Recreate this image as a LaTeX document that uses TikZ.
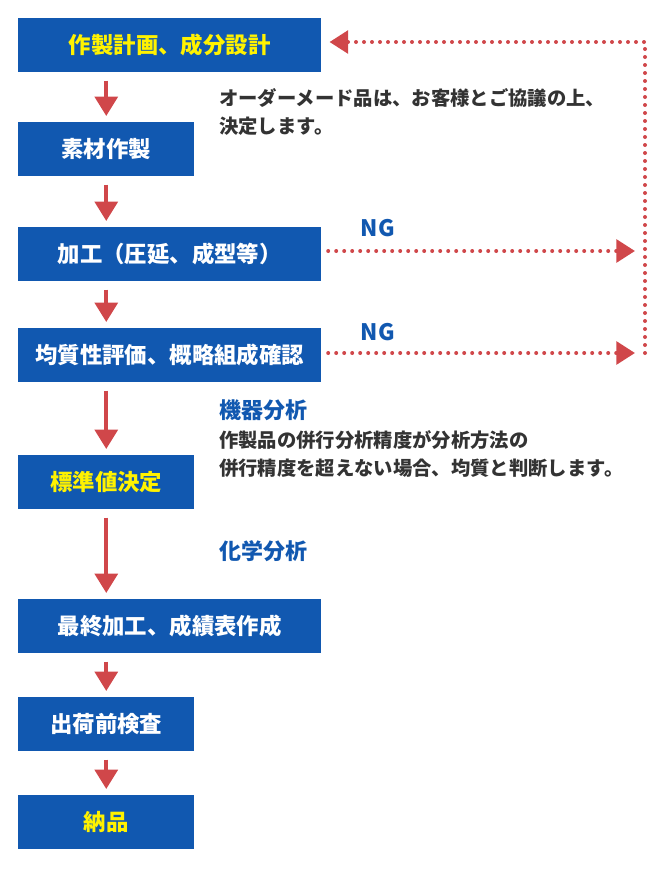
\documentclass[tikz,border=0pt]{standalone}
\usepackage{fontspec}
\setmainfont{Noto Sans CJK JP}
\usetikzlibrary{arrows.meta}
\definecolor{boxblue}{HTML}{1158B0}
\definecolor{boxyellow}{HTML}{FFF200}
\definecolor{flowred}{HTML}{D0474A}
\definecolor{notegray}{HTML}{333333}

\begin{document}
\begin{tikzpicture}[x=0.75pt,y=-0.75pt,
    box/.style={fill=boxblue,text=white,font=\fontsize{16.8}{19}\selectfont\bfseries,inner sep=0pt,minimum height=40.5pt,anchor=north west},
    wide box/.style={box,minimum width=227.25pt},
    short box/.style={box,minimum width=132pt},
    hi/.style={text=boxyellow},
    down/.style={-{Triangle[width=17pt,length=14.5pt]},draw=flowred,line width=3pt,shorten <=6pt,shorten >=4.5pt},
    ng line/.style={-{Triangle[width=17pt,length=14pt]},draw=flowred,line width=3pt,line cap=round,dash pattern=on 0pt off 6pt},
    note/.style={text=notegray,font=\fontsize{14.5}{21}\selectfont\bfseries,align=left,anchor=west,inner sep=0pt},
    blue note/.style={text=boxblue,font=\fontsize{16.5}{19}\selectfont\bfseries,anchor=west,inner sep=0pt}]
  \useasboundingbox (0,0) rectangle (669,871);
  % flow boxes
  \node[wide box,hi] (plan) at (18,18) {作製計画、成分設計};
  \node[short box] (mat) at (18,122) {素材作製};
  \node[wide box] (work) at (18,227) {加工（圧延、成型等）};
  \node[wide box] (eval) at (18,328) {均質性評価、概略組成確認};
  \node[short box,hi] (std) at (18,455) {標準値決定};
  \node[wide box] (fin) at (18,599) {最終加工、成績表作成};
  \node[short box] (chk) at (18,697) {出荷前検査};
  \node[short box,hi] (dlv) at (18,795) {納品};
  % notes
  \node[note] (n1) at (219,112) {オーダーメード品は、お客様とご協議の上、\\決定します。};
  \node[blue note,font=\fontsize{17}{20}\selectfont\bfseries] (ng1) at (360,228) {N\kern1pt G};
  \node[blue note,font=\fontsize{17}{20}\selectfont\bfseries] (ng2) at (360,332) {N\kern1pt G};
  \node[blue note] (kiki) at (219,410) {機器分析};
  \node[note] (n2) at (219,454) {作製品の併行分析精度が分析方法の\\併行精度を超えない場合、均質と判断します。};
  \node[blue note] (kagaku) at (219,551) {化学分析};
  % main flow
  \draw[down] (plan.south -| mat.north) -- (mat.north);
  \draw[down] (mat.south) -- (work.north -| mat.north);
  \draw[down] (work.south -| mat.north) -- (eval.north -| mat.north);
  \draw[down] (eval.south -| mat.north) -- (std.north);
  \draw[down] (std.south) -- (fin.north -| std.north);
  \draw[down] (fin.south -| chk.north) -- (chk.north);
  \draw[down] (chk.south) -- (dlv.north);
  % NG loop
  \coordinate (r1) at (635,251);
  \coordinate (r2) at (635,353);
  \coordinate (lb) at (645,353);
  \coordinate (lt) at (645,42);
  \draw[ng line,shorten <=5pt] (work.east |- r1) -- (r1);
  \draw[ng line,shorten <=5pt] (eval.east |- r2) -- (r2);
  \draw[ng line,shorten >=6pt] (lb) -- (lt) -- (plan.east |- lt);
\end{tikzpicture}
\end{document}
